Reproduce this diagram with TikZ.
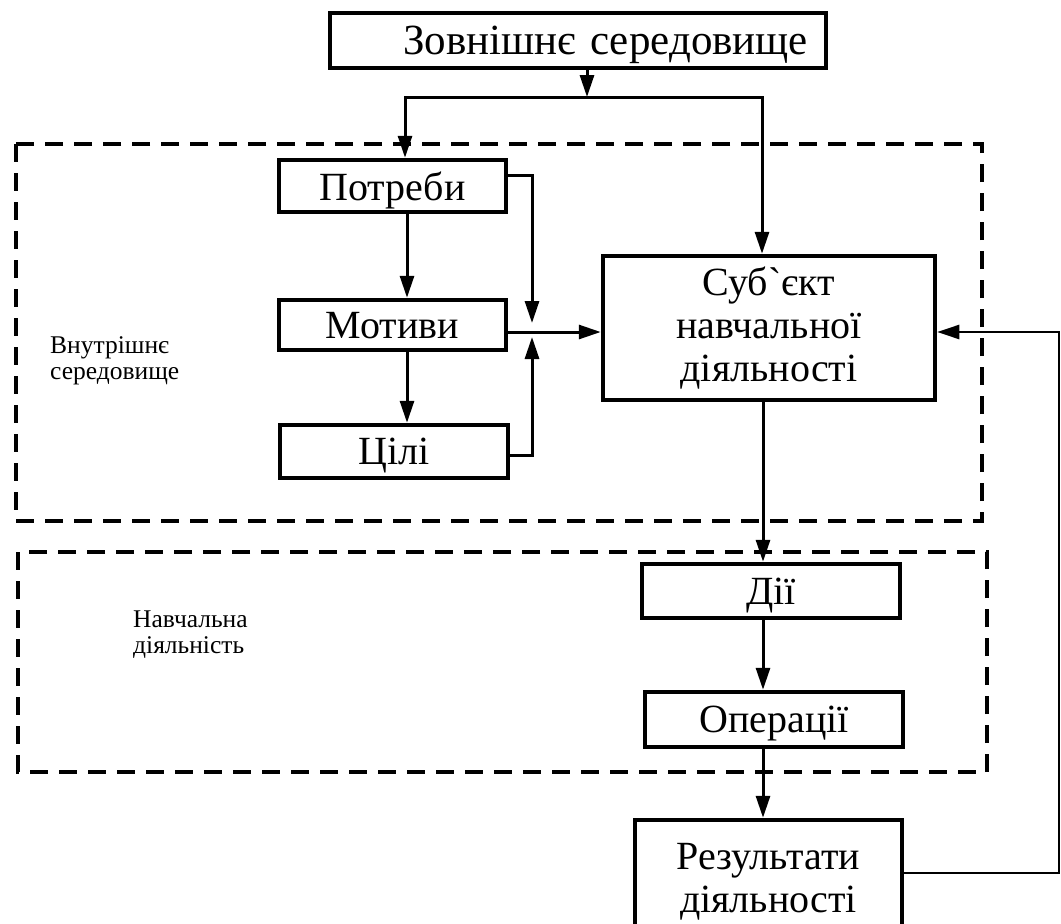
\documentclass[tikz,border=0pt]{standalone}
\usepackage{fontspec}
\setmainfont{Liberation Serif}[Ligatures=TeXOff]
\usetikzlibrary{arrows.meta,calc}

\begin{document}
\begin{tikzpicture}[x=1pt,y=-1pt,
  blk/.style={draw, line width=4.5pt, inner sep=0pt, align=center,
              font=\fontsize{40}{43}\selectfont},
  oneline/.style={blk, text depth=0pt},
  arr/.style={line width=3pt, -{Triangle[length=22pt,width=14pt]}},
  thinarr/.style={line width=2.5pt, -{Triangle[length=22pt,width=14pt]}},
  zone/.style={draw, line width=4pt, dash pattern=on 18pt off 11pt},
  lbl/.style={font=\fontsize{25.5}{26}\selectfont, align=left,
              anchor=north west, inner sep=0pt}]
\fill[white] (0,0) rectangle (1061,924);
\clip (0,0) rectangle (1061,924);

% dashed zones
\draw[zone] (16,144) rectangle (982,521);
\draw[zone] (18,552) rectangle (987,772);
\node[lbl] (inner) at (50,336) {Внутрішнє\\середовище};
\node[lbl] (learn) at (133,611) {Навчальна\\діяльність};

% blocks
\node[oneline, minimum width=496pt, minimum height=55pt, text width=460pt, align=right,
      font=\fontsize{43}{45}\selectfont]
  (top) at (578,40.5) {Зовнішнє середовище};
\node[oneline, minimum width=227pt, minimum height=52pt] (potr) at (392.5,186) {Потреби};
\node[oneline, minimum width=227pt, minimum height=50pt] (motiv) at (392.5,325) {Мотиви};
\node[oneline, minimum width=228pt, minimum height=53pt] (cili) at (394,451.5) {Цілі};
\node[blk, minimum width=332pt, minimum height=144pt] (subj) at (769,328)
  {Суб`єкт\\навчальної\\діяльності};
\node[oneline, minimum width=258pt, minimum height=54pt] (dii) at (771,591) {Дії};
\node[oneline, minimum width=258pt, minimum height=55pt] (oper) at (774,719.5) {Операції};
\node[blk, minimum width=267pt, minimum height=124pt] (res) at (768.5,882)
  {Результати\\діяльності};

% helper points
\coordinate (jt) at (587,97);
\coordinate (tl) at (405,97);
\coordinate (tr) at (762,97);
\coordinate (xl) at (407,0);
\coordinate (jm) at (532,332);
\coordinate (pa) at (532,175);
\coordinate (ca) at (532,455);
\coordinate (xc) at (763,0);
\coordinate (fb) at (1059,873);

% connectors
\draw[arr] (top.south -| jt) -- (jt);
\draw[arr] (jt) -- (tl) -- (potr.north -| tl);
\draw[arr] (jt) -- (tr) -- (subj.north -| tr);
\draw[arr] (potr.south -| xl) -- (motiv.north -| xl);
\draw[arr] (motiv.south -| xl) -- (cili.north -| xl);
\draw[arr] (potr.east |- pa) -- (pa) -- ($(jm)+(0,-9)$);
\draw[arr] (cili.east |- ca) -- (ca) -- ($(jm)+(0,5)$);
\draw[arr] (motiv.east |- jm) -- (subj.west |- jm);
\draw[arr] (subj.south -| xc) -- (dii.north -| xc);
\draw[arr] (dii.south -| xc) -- (oper.north -| xc);
\draw[arr] (oper.south -| xc) -- (res.north -| xc);
\draw[thinarr] (res.east |- fb) -- (fb) -- (fb |- jm) -- (subj.east |- jm);
\end{tikzpicture}
\end{document}
